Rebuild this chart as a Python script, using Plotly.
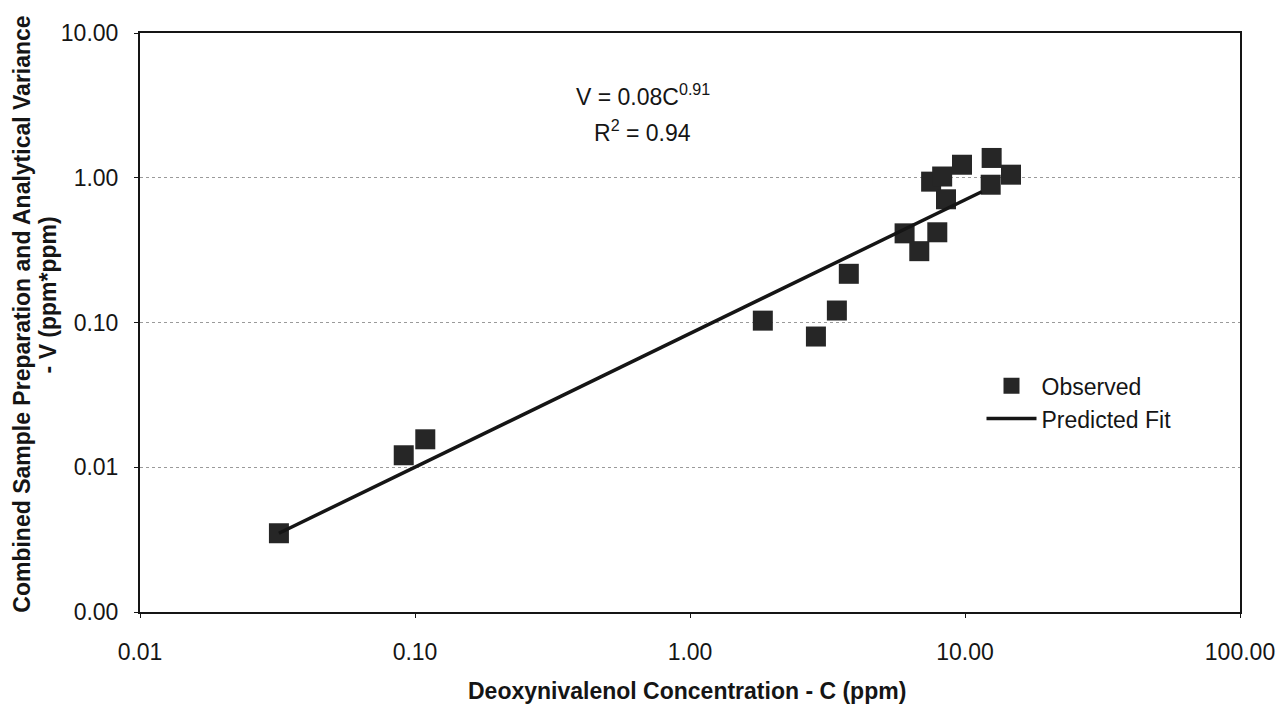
import plotly.graph_objects as go

obs_c = [0.032, 0.091, 0.109, 1.84, 2.87, 3.42, 3.78, 6.03, 6.82, 7.93,
         7.53, 8.26, 8.53, 9.75, 12.5, 12.4, 14.7]
obs_v = [0.0035, 0.0121, 0.0156, 0.103, 0.080, 0.121, 0.217, 0.413, 0.311, 0.42,
         0.94, 1.02, 0.71, 1.23, 1.37, 0.895, 1.05]

# Predicted fit line endpoints
fit_c = [0.032, 11.5]
fit_v = [0.0035, 0.80]

x_tickvals = [0.01, 0.1, 1, 10, 100]
x_ticktext = ["0.01", "0.10", "1.00", "10.00", "100.00"]
y_tickvals = [0.001, 0.01, 0.1, 1, 10]
y_ticktext = ["0.00", "0.01", "0.10", "1.00", "10.00"]

FONT = "Liberation Sans, Arial, sans-serif"
INK = "#151515"

fig = go.Figure()
fig.add_trace(go.Scatter(
    x=obs_c, y=obs_v, mode="markers", name="Observed",
    marker=dict(symbol="square", size=20, color="#262626",
                line=dict(width=0)),
))
fig.add_trace(go.Scatter(
    x=fit_c, y=fit_v, mode="lines", name="Predicted Fit",
    line=dict(color=INK, width=3.5),
))

# Equation annotation (two lines)
fig.add_annotation(
    x=0.457, y=0.893, xref="paper", yref="paper",
    xanchor="center", yanchor="middle",
    text="V = 0.08C<sup>0.91</sup>",
    showarrow=False, font=dict(family=FONT, size=23, color=INK),
)
fig.add_annotation(
    x=0.457, y=0.831, xref="paper", yref="paper",
    xanchor="center", yanchor="middle",
    text="R<sup>2</sup> = 0.94",
    showarrow=False, font=dict(family=FONT, size=23, color=INK),
)

# Axis titles as annotations
fig.add_annotation(
    x=-0.1074, y=0.515, xref="paper", yref="paper",
    xanchor="center", yanchor="middle", textangle=-90,
    text="<b>Combined Sample Preparation and Analytical Variance</b>",
    showarrow=False, font=dict(family=FONT, size=23, color=INK),
)
fig.add_annotation(
    x=-0.0839, y=0.548, xref="paper", yref="paper",
    xanchor="center", yanchor="middle", textangle=-90,
    text="<b>- V (ppm*ppm)</b>",
    showarrow=False, font=dict(family=FONT, size=23, color=INK),
)
fig.add_annotation(
    x=0.497, y=-0.137, xref="paper", yref="paper",
    xanchor="center", yanchor="middle",
    text="<b>Deoxynivalenol Concentration - C (ppm)</b>",
    showarrow=False, font=dict(family=FONT, size=23, color=INK),
)

fig.update_layout(
    width=1279, height=696,
    margin=dict(l=132, r=39, t=14, b=92),
    paper_bgcolor="white", plot_bgcolor="white",
    font=dict(family=FONT, size=23, color=INK),
    showlegend=True,
    legend=dict(x=0.765, y=0.428, xanchor="left", yanchor="top",
                bgcolor="rgba(0,0,0,0)", font=dict(size=23),
                tracegroupgap=6, itemwidth=50),
)

fig.update_xaxes(
    type="log", range=[-2, 2],
    tickvals=x_tickvals, ticktext=x_ticktext,
    showgrid=False, showline=True, linecolor=INK, linewidth=2,
    mirror=True, ticks="outside", ticklen=4, tickcolor=INK,
    tickfont=dict(size=23), ticklabelstandoff=14,
    zeroline=False,
)
fig.update_yaxes(
    type="log", range=[-3, 1],
    tickvals=y_tickvals, ticktext=y_ticktext,
    showgrid=True, gridcolor="#9a9a9a", griddash="dot", gridwidth=1,
    showline=True, linecolor=INK, linewidth=2,
    mirror=True, ticks="outside", ticklen=4, tickcolor=INK,
    tickfont=dict(size=23), ticklabelstandoff=11,
    zeroline=False,
)

fig.write_html("out.html")
